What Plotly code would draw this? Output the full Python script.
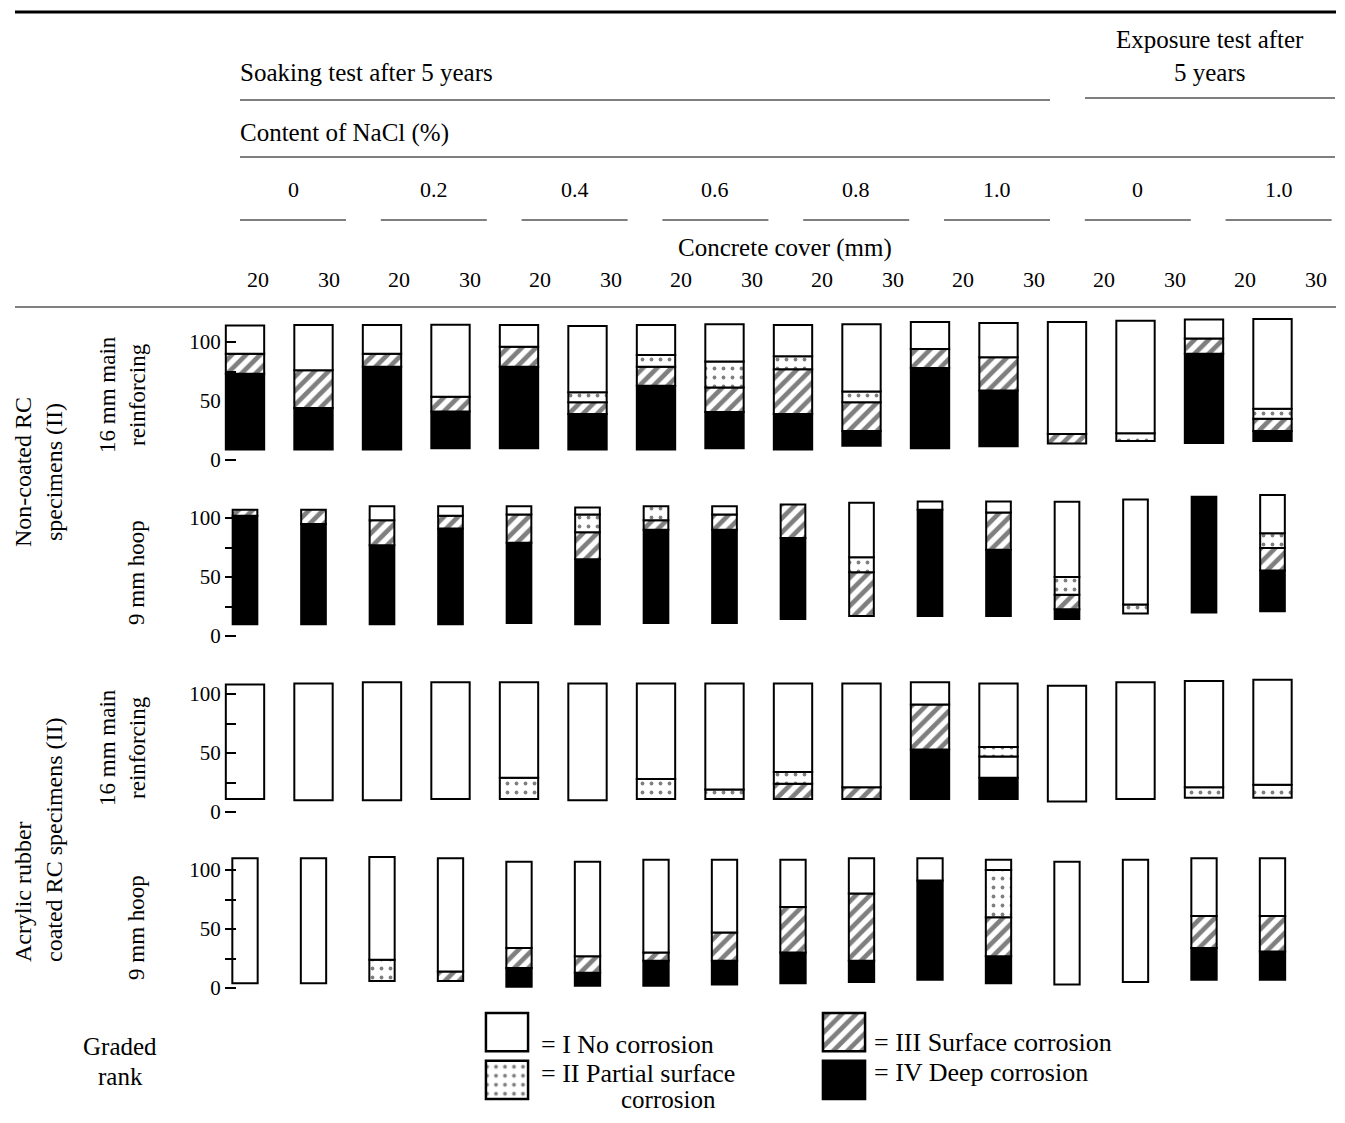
import plotly.graph_objects as go

# page body has an 8 px margin; figure is sized to fit inside the window
OFF = 8
FW, FH = 1345 - 2 * OFF, 1123 - 2 * OFF
def X(px): return (px - OFF) / FW
def Y(py): return 1 - (py - OFF) / FH

# ---------------- data ----------------
cover_labels = ["20", "30"] * 8
nacl_labels = ["0", "0.2", "0.4", "0.6", "0.8", "1.0", "0", "1.0"]
grade_names = ["IV Deep corrosion", "I No corrosion (band)", "III Surface corrosion",
               "II Partial surface corrosion", "I No corrosion"]

# Non-coated RC, 16 mm main reinforcing (segment heights, % of bar)
p1_bottom = [9, 9, 9, 10, 10, 9, 9, 10, 9, 12, 10, 11.6, 14, 16, 14.5, 16]
p1_IV  = [64, 35, 70, 31, 69, 30, 54, 30.6, 30, 12.6, 68, 47.4, 0, 0, 75.5, 8.6]
p1_gap = [0] * 16
p1_III = [17, 32, 11, 12.6, 17, 10, 16, 20.8, 38, 24.4, 16, 28, 8, 0, 13, 10.4]
p1_II  = [0, 0, 0, 0, 0, 8.4, 10, 22.1, 11, 9, 0, 0, 0, 6.6, 0, 8.5]
p1_I   = [24, 38.5, 24.5, 61, 18.5, 56.2, 25.5, 31.5, 26.5, 57, 23, 29, 95, 95.4, 16, 75.9]

# Non-coated RC, 9 mm hoop
p2_bottom = [10, 10, 10, 10, 11, 10, 11, 11, 14.5, 17, 17, 17, 14.5, 19, 20, 21]
p2_IV  = [92, 85, 67, 81, 68, 55, 79, 79, 68.5, 0, 90, 56, 8.2, 0, 98, 34.5]
p2_gap = [0] * 16
p2_III = [5, 12, 21, 11, 24, 23, 8, 13, 28.5, 37, 0, 31.6, 12.3, 0, 0, 19.1]
p2_II  = [0, 0, 0, 0, 0, 15, 12, 0, 0, 12.7, 0, 0, 15, 7.8, 0, 12.4]
p2_I   = [0, 0, 12, 8, 7, 6, 0, 7, 0, 46.3, 7, 9.4, 63.7, 88.8, 0, 32.5]

# Acrylic rubber coated RC, 16 mm main reinforcing
p3_bottom = [11, 10, 10, 11, 11, 10, 11, 11, 11, 11, 11, 11, 9, 11, 12, 12]
p3_IV  = [0, 0, 0, 0, 0, 0, 0, 0, 0, 0, 42, 18, 0, 0, 0, 0]
p3_gap = [0, 0, 0, 0, 0, 0, 0, 0, 0, 0, 0, 18, 0, 0, 0, 0]
p3_III = [0, 0, 0, 0, 0, 0, 0, 0, 13, 10, 38, 0, 0, 0, 0, 0]
p3_II  = [0, 0, 0, 0, 18, 0, 17, 8, 10, 0, 0, 8, 0, 0, 9, 11]
p3_I   = [97, 99, 100, 99, 81, 99, 81, 90, 75, 88, 19, 54, 98, 99, 90, 89]

# Acrylic rubber coated RC, 9 mm hoop
p4_bottom = [4, 4, 6, 6, 1, 2, 2, 3, 4, 5, 7, 4, 3, 5, 7, 7]
p4_IV  = [0, 0, 0, 0, 16, 11, 21, 20, 26, 18, 84, 23, 0, 0, 27, 24]
p4_gap = [0] * 16
p4_III = [0, 0, 0, 8, 17, 14, 7, 24, 38.6, 57, 0, 33, 0, 0, 27, 30]
p4_II  = [0, 0, 18, 0, 0, 0, 0, 0, 0, 0, 0, 40, 0, 0, 0, 0]
p4_I   = [106, 106, 87, 96, 73, 80, 78.6, 61.6, 40, 30, 19, 8.6, 104, 103.6, 49, 49]

panels = [
    (p1_bottom, [p1_IV, p1_gap, p1_III, p1_II, p1_I]),
    (p2_bottom, [p2_IV, p2_gap, p2_III, p2_II, p2_I]),
    (p3_bottom, [p3_IV, p3_gap, p3_III, p3_II, p3_I]),
    (p4_bottom, [p4_IV, p4_gap, p4_III, p4_II, p4_I]),
]

# ---------------- styles ----------------
FONT = "Liberation Serif"
WORD = 25
DIGIT = 22
hatch = dict(shape="/", fgcolor="black", bgcolor="white", size=10, solidity=0.47)
dots = dict(shape=".", fgcolor="black", bgcolor="white", size=9, solidity=0.14)
styles = [
    dict(color="black"),
    dict(color="white"),
    dict(color="white", pattern=hatch),
    dict(color="white", pattern=dots),
    dict(color="white"),
]
bar_widths = [0.56, 0.36, 0.56, 0.37]
zero_px = [460, 636, 812, 988]
PX_PER_UNIT = 1.18

fig = go.Figure()
n = len(cover_labels)
xs = list(range(n))

for k, (bottom, segs) in enumerate(panels):
    yname = "y" if k == 0 else f"y{k+1}"
    base = list(bottom)
    for s, seg in enumerate(segs):
        vals = [v if v > 0 else None for v in seg]
        fig.add_trace(go.Bar(
            x=xs, y=vals, base=list(base), width=bar_widths[k],
            xaxis="x", yaxis=yname, name=grade_names[s], showlegend=False,
            marker=dict(line=dict(color="black", width=2), **styles[s]),
            hoverinfo="skip"))
        base = [b + v for b, v in zip(base, seg)]

# legend glyphs (column, row) on a separate small axis
legend_cells = [(0, 1, 4), (0, 0, 3), (1, 1, 2), (1, 0, 0)]
for col, row, s in legend_cells:
    fig.add_trace(go.Bar(
        x=[col], y=[0.8], base=[row - 0.4], width=0.125,
        xaxis="x2", yaxis="y5", showlegend=False, hoverinfo="skip",
        marker=dict(line=dict(color="black", width=2.5), **styles[s])))

# x mapping: bar i centre at ref pixel 245 + 68.5*i
x0, dx = 245 - OFF, 68.5
layout = dict(
    width=FW, height=FH, margin=dict(l=0, r=0, t=0, b=0),
    paper_bgcolor="white", plot_bgcolor="rgba(0,0,0,0)",
    barmode="overlay", showlegend=False,
    font=dict(family=FONT, size=WORD, color="black"),
    xaxis=dict(domain=[0, 1], range=[-x0 / dx, (FW - x0) / dx], visible=False, anchor="y"),
    xaxis2=dict(domain=[X(338.5), X(1012.5)], range=[-0.5, 1.5], visible=False, anchor="y5"),
    yaxis5=dict(domain=[Y(1103.75), Y(1008.25)], range=[-0.5, 1.5], visible=False, anchor="x2"),
)
for k in range(4):
    key = "yaxis" if k == 0 else f"yaxis{k+1}"
    z = zero_px[k]
    layout[key] = dict(
        domain=[Y(z + 15), Y(z - 150)],
        range=[-15 / PX_PER_UNIT, 150 / PX_PER_UNIT],
        anchor="free", position=X(236),
        tickvals=[0, 25, 50, 75, 100], ticktext=["0", "", "50", "", "100"],
        ticks="outside", ticklen=11, tickwidth=1.5, tickcolor="black",
        showline=False, showgrid=False, zeroline=False,
        tickfont=dict(family=FONT, size=21, color="black"))
fig.update_layout(**layout)

ann = []
def text(t, px, py, xanchor="center", size=WORD, angle=0, align="center", yanchor="middle"):
    ann.append(dict(text=t, x=X(px), y=Y(py), xref="paper", yref="paper",
                    xanchor=xanchor, yanchor=yanchor, showarrow=False,
                    textangle=angle, align=align, borderpad=0,
                    font=dict(family=FONT, size=size, color="black")))

text("Soaking test after 5 years", 239, 73, xanchor="left")
text("Exposure test after<br>5 years", 1210, 56)
text("Content of NaCl (%)", 239, 133, xanchor="left")
for j, lab in enumerate(nacl_labels):
    text(lab, 293 + 140.8 * j, 190, size=DIGIT)
text("Concrete cover (mm)", 785, 248)
for i, lab in enumerate(cover_labels):
    text(lab, 258 + 70.5 * i, 280, size=DIGIT)

text("Non-coated RC<br>specimens (II)", 38, 472, angle=-90, size=24)
text("16 mm main<br>reinforcing", 122, 395, angle=-90, size=23)
text("9 mm hoop", 136, 573, angle=-90, size=23)
text("Acrylic rubber<br>coated RC specimens (II)", 38, 840, angle=-90, align="left", size=24)
text("16 mm main<br>reinforcing", 122, 748, angle=-90, size=23)
text("9 mm hoop", 136, 928, angle=-90, size=23)

text("Graded", 120, 1046)
text("rank", 120, 1076)
text("= I No corrosion", 540, 1044, xanchor="left", size=26)
text("= II Partial surface", 540, 1073, xanchor="left", size=26)
text("corrosion", 668, 1114, size=25, yanchor="bottom")
text("= III Surface corrosion", 873, 1042, xanchor="left", size=26)
text("= IV Deep corrosion", 873, 1072, xanchor="left", size=26)

shapes = []
def hline(xa, xb, py, w=1.2):
    shapes.append(dict(type="line", xref="paper", yref="paper",
                       x0=X(xa), x1=X(xb), y0=Y(py), y1=Y(py),
                       line=dict(color="black", width=w)))

hline(15, 1336, 12, 3)
hline(240, 1050, 100)
hline(1085, 1335, 98)
hline(240, 1335, 157)
for j in range(8):
    c = 293 + 140.8 * j
    hline(c - 53, c + 53, 220)
hline(15, 1336, 307, 1)

fig.update_layout(annotations=ann, shapes=shapes)
fig.write_html("out.html")
